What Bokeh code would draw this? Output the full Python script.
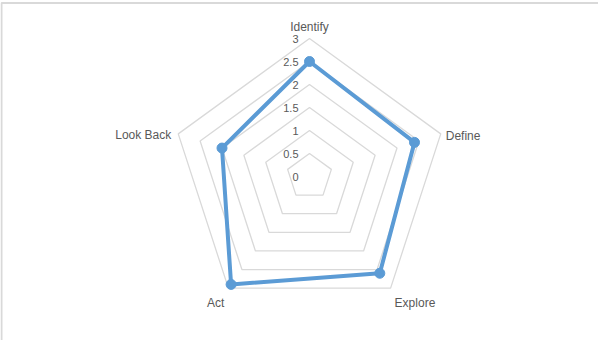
import numpy as np
from bokeh.plotting import figure
from bokeh.models import Range1d
from bokeh.core.properties import value
from bokeh.embed import file_html
from bokeh.resources import INLINE

# ---- data ----
categories = ["Identify", "Define", "Explore", "Act", "Look Back"]
scores = [2.5, 2.4, 2.6, 2.9, 2.0]
tick_values = [0, 0.5, 1, 1.5, 2, 2.5, 3]
tick_labels = ["0", "0.5", "1", "1.5", "2", "2.5", "3"]

# ---- layout constants (figure pixels; figure sits at page 8,8) ----
PX = 46.0            # pixels per value unit
CX, CY = 309, 176    # radar centre in figure pixels
W, H = 598, 340
GRID = "#d9d9d9"
BLUE = "#5b9bd5"
FONT = "Liberation Sans"

n = len(categories)
angles = np.pi / 2 - np.arange(n) * 2 * np.pi / n


def to_xy(r, a):
    return r * np.cos(a), r * np.sin(a)


p = figure(width=W, height=H, output_backend="svg", toolbar_location=None,
           x_range=Range1d(-CX / PX, (W - CX) / PX),
           y_range=Range1d(-(H - CY) / PX, CY / PX),
           min_border=0)
p.axis.visible = False
p.grid.visible = False
p.outline_line_color = None
p.background_fill_color = "white"
p.border_fill_color = "white"

# chart-area frame (left and top edges visible)
p.quad(left=[1.0 / PX - CX / PX], right=[(900 - CX) / PX],
       top=[(CY - 2.5) / PX], bottom=[-(900 - CY) / PX],
       fill_color=None, line_color=GRID, line_width=2)

# grid rings
ring_xs, ring_ys = [], []
for t in tick_values[1:]:
    xs, ys = to_xy(t, angles)
    ring_xs.append(list(xs) + [xs[0]])
    ring_ys.append(list(ys) + [ys[0]])
p.multi_line(ring_xs, ring_ys, line_color=GRID, line_width=1.3)

# value axis labels
p.text(x=[-11 / PX] * len(tick_values), y=tick_values, text=tick_labels,
       text_font=value(FONT), text_font_size="11px", text_color="#595959",
       text_align="right", text_baseline="middle")

# category labels
rmax = tick_values[-1]
vx, vy = to_xy(rmax, angles)
offsets = [(0, -12, "center"), (5, 2, "left"), (4, 15, "left"),
           (-4, 15, "right"), (-7, 1, "right")]
for i, c in enumerate(categories):
    dx, dy, al = offsets[i]
    p.text(x=[vx[i] + dx / PX], y=[vy[i] - dy / PX], text=[c],
           text_font=value(FONT), text_font_size="12px", text_color="#595959",
           text_align=al, text_baseline="middle")

# series
sx, sy = to_xy(np.array(scores), angles)
p.line(list(sx) + [sx[0]], list(sy) + [sy[0]], line_color=BLUE, line_width=4,
       line_join="round")
p.scatter(sx, sy, size=10, fill_color=BLUE, line_color=BLUE)

open("out.html", "w").write(file_html(p, INLINE))
